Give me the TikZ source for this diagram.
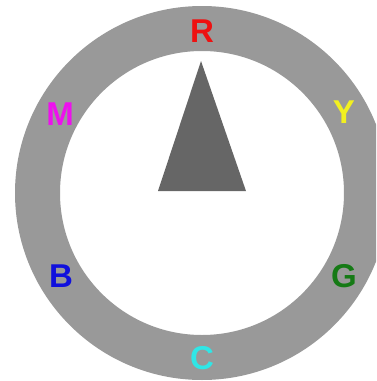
\documentclass[tikz,border=0pt]{standalone}
\usepackage{fontspec}
\setmainfont{Liberation Sans}
\definecolor{ringgray}{HTML}{999999}
\definecolor{needlegray}{HTML}{666666}
\definecolor{cR}{HTML}{EE1111}
\definecolor{cY}{HTML}{F2F020}
\definecolor{cG}{HTML}{157A15}
\definecolor{cC}{HTML}{30E6E6}
\definecolor{cB}{HTML}{1010DD}
\definecolor{cM}{HTML}{EE10EE}
\tikzset{
  lbl/.style={inner sep=0pt, font=\fontsize{33}{33}\selectfont\bfseries}
}
\begin{document}
\begin{tikzpicture}[x=1pt,y=-1pt]
\useasboundingbox (0,0) rectangle (376,381);
\clip (0,0) rectangle (376,381);
\coordinate (O) at (202,193);
\fill[ringgray, even odd rule] (O) circle[radius=187] (O) circle[radius=142];
\fill[needlegray] (201,61) -- (246,191) -- (158,191) -- cycle;
\node[lbl, text=cR] (R) at (202,31) {R};
\node[lbl, text=cY] (Y) at (344,112) {Y};
\node[lbl, text=cG] (G) at (344,276) {G};
\node[lbl, text=cC] (C) at (202,358) {C};
\node[lbl, text=cB] (B) at (61,276) {B};
\node[lbl, text=cM] (M) at (60,114) {M};
\end{tikzpicture}
\end{document}
